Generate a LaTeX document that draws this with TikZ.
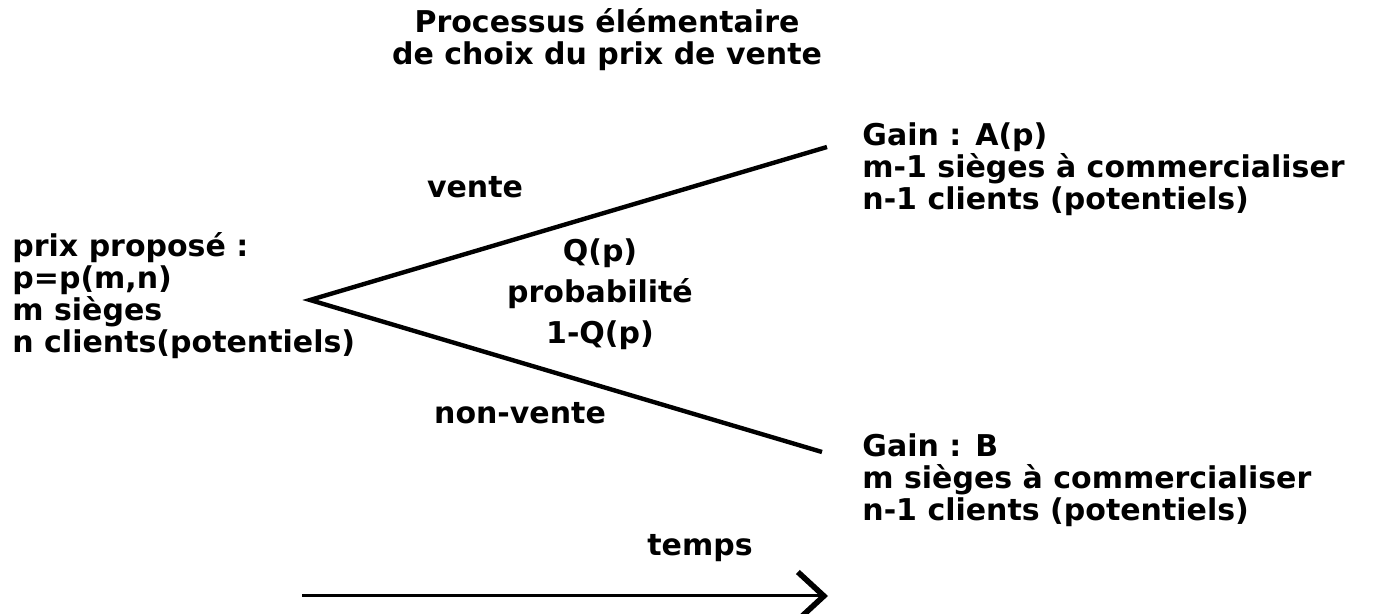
\documentclass[tikz,border=0pt]{standalone}
\usepackage{fontspec}
\setmainfont{DejaVu Sans}
\usetikzlibrary{arrows.meta,positioning}

\begin{document}
\begin{tikzpicture}[
 x=0.5pt, y=-0.5pt, >={Straight Barb[length=13pt,width=24pt,line width=2.8pt]},
 font=\fontsize{15}{16}\selectfont\bfseries,
 lbl/.style={inner sep=0pt, align=left},
 branch/.style={line width=2.2pt},
 timeline/.style={->, line width=1.5pt}]
\useasboundingbox (0,0) rectangle (1377,614);
\node[lbl, align=center] (title) at (607,40) {Processus élémentaire\\ de choix du prix de vente};
\node[lbl, anchor=west] (etat) at (12,296) {prix proposé :\\ p=p(m,n)\\ m sièges\\ n clients(potentiels)};
\coordinate (v) at (310,300);
\coordinate (haut) at (827,147);
\coordinate (bas) at (822,452);
\node[lbl, anchor=west] (gainA) at (862,169) {Gain : A(p)\\ m-1 sièges à commercialiser\\ n-1 clients (potentiels)};
\node[lbl, anchor=west] (gainB) at (862,480) {Gain : B\\ m sièges à commercialiser\\ n-1 clients (potentiels)};
\node[lbl] (vente) at (475,187) {vente};
\node[lbl] (nonvente) at (520,413) {non-vente};
\node[lbl, align=center, font=\fontsize{15}{20.5}\selectfont\bfseries] (proba) at (600,294) {Q(p)\\ probabilité\\ 1-Q(p)};
\draw[branch] (haut) -- (v) -- (bas);
\node[lbl] (temps) at (700,548) {temps};
\coordinate (t0) at (302,596);
\coordinate (t1) at (828,596);
\draw[timeline] (t0) -- (t1);
\end{tikzpicture}
\end{document}
